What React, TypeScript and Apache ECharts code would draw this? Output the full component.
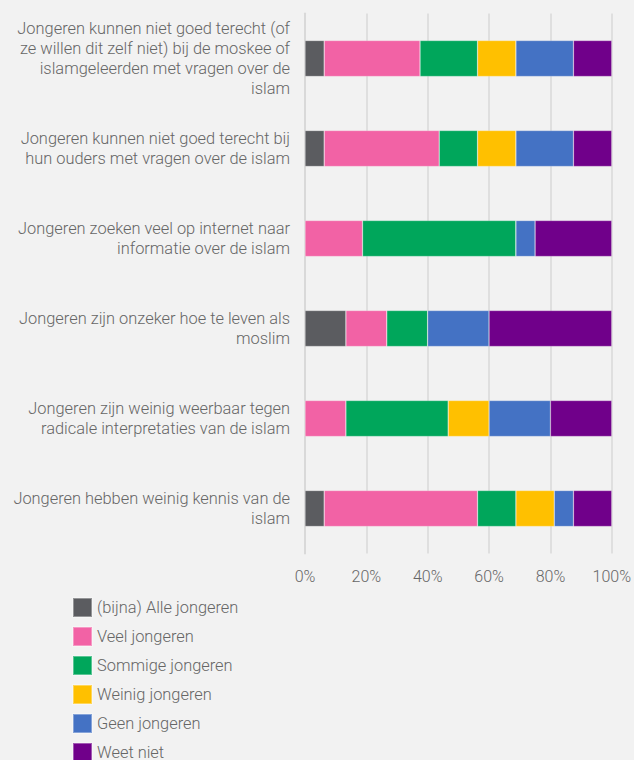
import React, { useEffect, useRef } from "react";
import * as echarts from "echarts";

const categories = [
  "Jongeren kunnen niet goed terecht (of\nze willen dit zelf niet) bij de moskee of\nislamgeleerden met vragen over de\nislam",
  "Jongeren kunnen niet goed terecht bij\nhun ouders met vragen over de islam",
  "Jongeren zoeken veel op internet naar\ninformatie over de islam",
  "Jongeren zijn onzeker hoe te leven als\nmoslim",
  "Jongeren zijn weinig weerbaar tegen\nradicale interpretaties van de islam",
  "Jongeren hebben weinig kennis van de\nislam",
];

const seriesNames = [
  "(bijna) Alle jongeren",
  "Veel jongeren",
  "Sommige jongeren",
  "Weinig jongeren",
  "Geen jongeren",
  "Weet niet",
];

const alleValues = [6.25, 6.25, 0, 13.33, 0, 6.25];
const veelValues = [31.25, 37.5, 18.75, 13.33, 13.33, 50];
const sommigeValues = [18.75, 12.5, 50, 13.33, 33.34, 12.5];
const weinigValues = [12.5, 12.5, 0, 0, 13.33, 12.5];
const geenValues = [18.75, 18.75, 6.25, 20, 20, 6.25];
const weetNietValues = [12.5, 12.5, 25, 40.01, 20, 12.5];

const seriesValues = [alleValues, veelValues, sommigeValues, weinigValues, geenValues, weetNietValues];
const colors = ["#5b5c60", "#f262a5", "#00a65b", "#ffc000", "#4472c4", "#70008a"];

const textColor = "#666666";
const font = "Roboto";

export default function App() {
  const ref = useRef<HTMLDivElement>(null);
  useEffect(() => {
    document.body.style.margin = "0";
    const chart = echarts.init(ref.current!, undefined, { renderer: "svg" });
    chart.setOption({
      animation: false,
      backgroundColor: "#f2f2f2",
      color: colors,
      grid: { left: 305, right: 22, top: 13.5, bottom: 760 - 553.5, containLabel: false },
      legend: {
        orient: "vertical",
        left: 72,
        top: 597,
        height: 300,
        padding: 0,
        itemWidth: 19,
        itemHeight: 19,
        itemGap: 8,
        icon: "rect",
        data: seriesNames,
        textStyle: { color: textColor, fontSize: 16.4, fontFamily: font, fontWeight: 300 },
      },
      xAxis: {
        type: "value",
        min: 0,
        max: 100,
        interval: 20,
        axisLine: { show: false },
        axisTick: { show: false },
        splitLine: { lineStyle: { color: "#d9d9d9", width: 1.5 } },
        axisLabel: {
          formatter: (v: number) => v + "%",
          color: textColor,
          fontSize: 16,
          fontFamily: font,
          fontWeight: 300,
          margin: 15,
        },
      },
      yAxis: {
        type: "category",
        inverse: true,
        data: categories,
        axisLine: { show: true, lineStyle: { color: "#d9d9d9", width: 2 } },
        axisTick: { show: false },
        axisLabel: {
          color: textColor,
          fontSize: 16.4,
          fontFamily: font,
          fontWeight: 300,
          margin: 15,
          lineHeight: 20,
          align: "right",
        },
      },
      series: seriesNames.map((name, i) => ({
        name,
        type: "bar",
        stack: "total",
        barWidth: 36,
        data: seriesValues[i],
        itemStyle: { color: colors[i], borderColor: "rgba(255,255,255,0.35)", borderWidth: 0.6 },
      })),
    });
    return () => chart.dispose();
  }, []);
  return <div ref={ref} style={{ width: 634, height: 760 }} />;
}
